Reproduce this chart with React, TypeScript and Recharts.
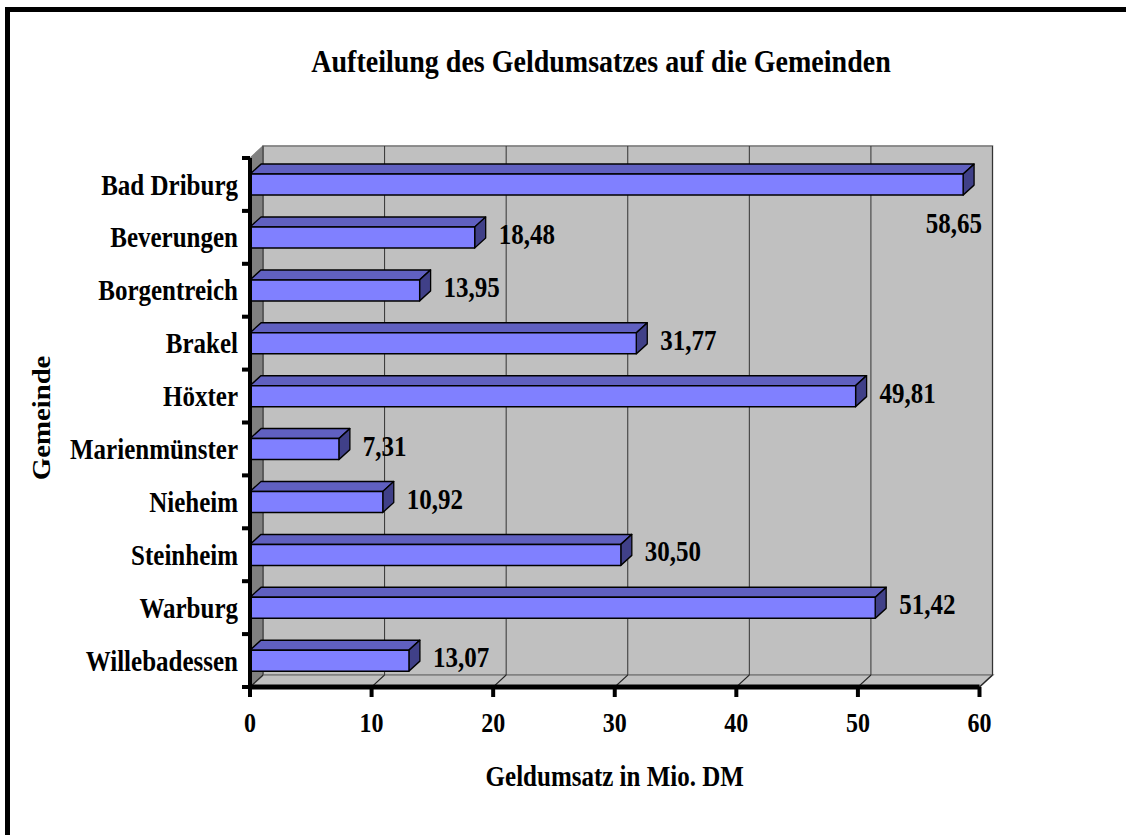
import React from 'react';
import {
  BarChart,
  Bar,
  XAxis,
  YAxis,
  CartesianGrid,
  ReferenceArea,
  LabelList,
} from 'recharts';

const gemeinden = [
  'Bad Driburg',
  'Beverungen',
  'Borgentreich',
  'Brakel',
  'Höxter',
  'Marienmünster',
  'Nieheim',
  'Steinheim',
  'Warburg',
  'Willebadessen',
];
const umsatz = [58.65, 18.48, 13.95, 31.77, 49.81, 7.31, 10.92, 30.5, 51.42, 13.07];
const xTicks = [0, 10, 20, 30, 40, 50, 60];

// the old picture is stretched vertically, so the chart is drawn flatter and scaled up
const STRETCH = 1.15;
const W = 1126;
const H = 835;
const INNER_H = H / STRETCH;

const PLOT_LEFT = 250;
const PLOT_RIGHT = 979.5;
const PLOT_TOP = 158 / STRETCH;
const PLOT_BOTTOM = 687 / STRETCH;
const YAXIS_W = 200;
const XAXIS_H = 90;

// 3d depth of walls and bars
const WALL_DX = 13;
const WALL_DY = 12 / STRETCH;
const BAR_DX = 11;
const BAR_DY = 10 / STRETCH;

const FONT = '"Liberation Serif", "Times New Roman", serif';

const data = gemeinden.map((name, i) => ({ name, umsatz: umsatz[i] }));

const fmt = (v: number) => v.toFixed(2).replace('.', ',');

function Walls(props: any) {
  const { x, y, width, height } = props;
  const b = y + height;
  return (
    <g>
      <rect
        x={x + WALL_DX}
        y={y - WALL_DY}
        width={width}
        height={height}
        fill="#C0C0C0"
        stroke="#808080"
        strokeWidth={1.5}
      />
      <polygon
        points={`${x},${b} ${x},${y} ${x + WALL_DX},${y - WALL_DY} ${x + WALL_DX},${b - WALL_DY}`}
        fill="#808080"
        stroke="#808080"
      />
      <polygon
        points={`${x},${b} ${x + width},${b} ${x + width + WALL_DX},${b - WALL_DY} ${x + WALL_DX},${b - WALL_DY}`}
        fill="#C0C0C0"
        stroke="#808080"
        strokeWidth={1.5}
      />
    </g>
  );
}

function GridLine(props: any) {
  const { x1, y1, y2, index } = props;
  return (
    <g key={`g-${index}`}>
      <line
        x1={x1 + WALL_DX}
        y1={y1 - WALL_DY}
        x2={x1 + WALL_DX}
        y2={y2 - WALL_DY}
        stroke="#333"
        strokeWidth={1}
      />
      <line x1={x1} y1={y2} x2={x1 + WALL_DX} y2={y2 - WALL_DY} stroke="#222" strokeWidth={1} />
    </g>
  );
}

function Bar3D(props: any) {
  const { x, y, width, height } = props;
  if (width == null || height == null) return null;
  const r = x + width;
  return (
    <g stroke="#000" strokeWidth={1.3} strokeLinejoin="round">
      <polygon
        points={`${x},${y} ${x + BAR_DX},${y - BAR_DY} ${r + BAR_DX},${y - BAR_DY} ${r},${y}`}
        fill="#6060C0"
      />
      <polygon
        points={`${r},${y} ${r + BAR_DX},${y - BAR_DY} ${r + BAR_DX},${y + height - BAR_DY} ${r},${y + height}`}
        fill="#404088"
      />
      <rect x={x} y={y} width={width} height={height} fill="#8080FF" />
    </g>
  );
}

function ValueLabel(props: any) {
  const { x, y, width, height, value } = props;
  const end = x + width;
  const cy = y + height / 2;
  const textStyle = { fontFamily: FONT, fontSize: 25, fontWeight: 'bold' as const, fill: '#000' };
  if (end + BAR_DX + 13 + 70 > PLOT_RIGHT + 20) {
    return (
      <text x={end + 19} y={cy + 33.5} dy="0.35em" textAnchor="end" style={textStyle}>
        {fmt(value)}
      </text>
    );
  }
  return (
    <text x={end + BAR_DX + 13} y={cy - 3} dy="0.35em" textAnchor="start" style={textStyle}>
      {fmt(value)}
    </text>
  );
}

function CategoryTick(props: any) {
  const { x, y, payload, index } = props;
  const half = payload.offset ?? (PLOT_BOTTOM - PLOT_TOP) / gemeinden.length / 2;
  const axisX = PLOT_LEFT;
  return (
    <g>
      <line x1={axisX - 8} y1={y - half} x2={axisX} y2={y - half} stroke="#000" strokeWidth={3.5} />
      {index === gemeinden.length - 1 && (
        <line x1={axisX - 8} y1={y + half} x2={axisX} y2={y + half} stroke="#000" strokeWidth={3.5} />
      )}
      <text
        x={x}
        y={y}
        dy="0.35em"
        textAnchor="end"
        style={{ fontFamily: FONT, fontSize: 25, fontWeight: 'bold', fill: '#000' }}
      >
        {payload.value}
      </text>
    </g>
  );
}

function GemeindeLabel(props: any) {
  const { viewBox } = props;
  const cx = 41;
  const cy = viewBox.y + viewBox.height / 2 - 4;
  return (
    <text
      x={cx}
      y={cy}
      dy="0.35em"
      textAnchor="middle"
      transform={`rotate(-90, ${cx}, ${cy})`}
      style={{ fontFamily: FONT, fontSize: 25, fontWeight: 'bold', fill: '#000' }}
    >
      Gemeinde
    </text>
  );
}

export default function App() {
  return (
    <div
      style={{
        position: 'absolute',
        left: 0,
        top: 0,
        width: W,
        height: H,
        overflow: 'hidden',
        background: '#fff',
        fontFamily: FONT,
      }}
    >
      <div
        style={{
          position: 'absolute',
          left: 5,
          top: 7,
          width: 2000,
          height: 2000,
          borderLeft: '5px solid #000',
          borderTop: '5px solid #000',
        }}
      />
      <div
        style={{
          position: 'absolute',
          left: 0,
          top: 0,
          width: W,
          height: INNER_H,
          transform: `scaleY(${STRETCH})`,
          transformOrigin: '0 0',
        }}
      >
        <div
          style={{
            position: 'absolute',
            left: 201,
            top: 38,
            width: 800,
            textAlign: 'center',
            fontSize: 28,
            lineHeight: '32px',
            fontWeight: 'bold',
            color: '#000',
          }}
        >
          Aufteilung des Geldumsatzes auf die Gemeinden
        </div>
        <BarChart
          width={W}
          height={INNER_H}
          data={data}
          layout="vertical"
          barSize={21 / STRETCH}
          margin={{
            top: PLOT_TOP,
            right: W - PLOT_RIGHT,
            bottom: INNER_H - PLOT_BOTTOM - XAXIS_H,
            left: PLOT_LEFT - YAXIS_W,
          }}
          style={{ fontFamily: FONT }}
        >
          <ReferenceArea x1={0} x2={60} ifOverflow="visible" shape={<Walls />} zIndex={-200} />
          <CartesianGrid horizontal={false} vertical={(p: any) => <GridLine {...p} />} />
          <XAxis
            type="number"
            domain={[0, 60]}
            ticks={xTicks}
            height={XAXIS_H}
            interval={0}
            tickSize={10 / STRETCH}
            tickMargin={13}
            axisLine={{ stroke: '#000', strokeWidth: 5 / STRETCH }}
            tickLine={{ stroke: '#000', strokeWidth: 4 }}
            tick={{ fill: '#000', fontSize: 24, fontWeight: 'bold', fontFamily: FONT }}
            label={{
              value: 'Geldumsatz in Mio. DM',
              position: 'insideBottom',
              offset: 4,
              style: { fill: '#000', fontSize: 25, fontWeight: 'bold', fontFamily: FONT },
            }}
          />
          <YAxis
            type="category"
            dataKey="name"
            width={YAXIS_W}
            interval={0}
            tickSize={8}
            tickMargin={4}
            tickLine={false}
            axisLine={{ stroke: '#000', strokeWidth: 4 }}
            tick={<CategoryTick />}
            label={<GemeindeLabel />}
          />
          <Bar dataKey="umsatz" shape={<Bar3D />} isAnimationActive={false}>
            <LabelList dataKey="umsatz" content={<ValueLabel />} />
          </Bar>
        </BarChart>
      </div>
    </div>
  );
}
